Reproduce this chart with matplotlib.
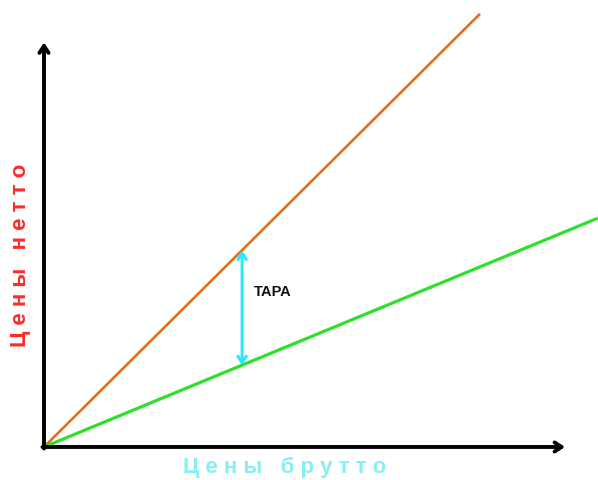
import matplotlib.pyplot as plt

# data (gross price -> net price), axis units
gross_high = [0, 8.385]
net_high = [0, 8.33]    # orange line
gross_low = [0, 10.65]
net_low = [0, 4.40]     # green line
tara_x = 3.81
tara_low = 1.57
tara_high = 3.78

fig = plt.figure(figsize=(5.98, 4.80), dpi=100)
ax = fig.add_axes([0, 0, 1, 1])
ax.set_xlim(-0.846, 10.654)
ax.set_ylim(-0.635, 8.596)
ax.axis('off')

# axes with arrows
arrow_kw = dict(arrowstyle='->,head_length=0.5,head_width=0.33', color='black', lw=2.8,
                shrinkA=0, shrinkB=0)
ax.annotate('', xy=(10.02, 0), xytext=(-0.03, 0), arrowprops=arrow_kw)
ax.annotate('', xy=(0, 7.78), xytext=(0, -0.03), arrowprops=arrow_kw)

# lines
ax.plot(gross_high, net_high, color='#e0701e', lw=1.9, solid_capstyle='butt')
ax.plot(gross_low, net_low, color='#2ee02a', lw=2.3, solid_capstyle='butt')

# tara arrow
ax.annotate('', xy=(tara_x, tara_high), xytext=(tara_x, tara_low),
            arrowprops=dict(arrowstyle='<->,head_length=0.45,head_width=0.3', color='#22eaff',
                            lw=2.2, shrinkA=0, shrinkB=0))
ax.text(4.40, 2.98, 'ТАРА', fontsize=10.5, fontweight='bold', family='Liberation Sans',
        ha='center', va='center', color='#111111')

# axis labels
ax.text(4.63, -0.40, 'Ц е н ы   б р у т т о', fontsize=16, fontweight='bold',
        family='Liberation Sans', color='#88eef2', ha='center', va='center')
ax.text(-0.46, 3.69, 'Ц е н ы   н е т т о', fontsize=16, fontweight='bold',
        family='Liberation Sans', color='#ff2a2a', ha='center', va='center', rotation=90)

fig.savefig('out.png', dpi=100)
